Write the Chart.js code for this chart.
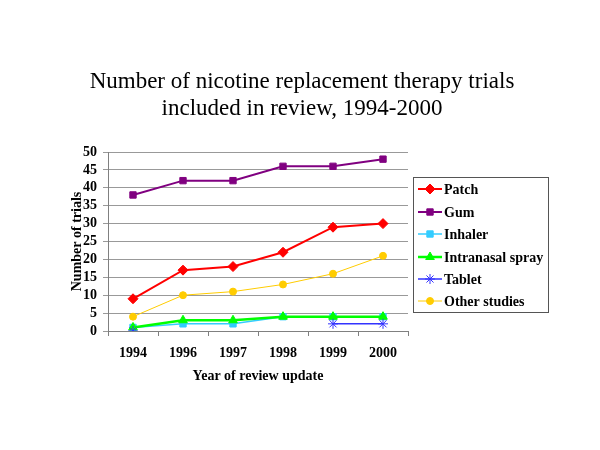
<!DOCTYPE html>
<html>
<head>
<meta charset="utf-8">
<script src="https://cdn.jsdelivr.net/npm/chart.js@4.4.0/dist/chart.umd.min.js"></script>
<style>
html,body{margin:0;padding:0;background:#fff;}
#wrap{width:600px;height:450px;position:relative;}
</style>
</head>
<body>
<div id="wrap"><canvas id="c" width="600" height="450"></canvas></div>
<script>
const years = ["1994","1996","1997","1998","1999","2000"];
const patch = [9, 17, 18, 22, 29, 30];
const gum = [38, 42, 42, 46, 46, 48];
const inhaler = [1, 2, 2, 4, 4, 4];
const intranasal = [1, 3, 3, 4, 4, 4];
const tablet = [0, null, null, null, 2, 2];
const other = [4, 10, 11, 13, 16, 21];
const yTicks = [0, 5, 10, 15, 20, 25, 30, 35, 40, 45, 50];
const titleLines = ['Number of nicotine replacement therapy trials', 'included in review, 1994-2000'];

const SERIF = "'Liberation Serif', 'Times New Roman', serif";

const titleAndLegend = {
  id: 'titleAndLegend',
  afterDraw(chart) {
    const ctx = chart.ctx;
    ctx.save();
    // title
    ctx.font = "23px " + SERIF;
    ctx.fillStyle = '#000';
    ctx.textAlign = 'center';
    ctx.textBaseline = 'middle';
    ctx.fillText(titleLines[0], 302, 82);
    ctx.fillText(titleLines[1], 302, 109);
    // legend box
    const x0 = 413, y0 = 177, w = 135, h = 135;
    ctx.strokeStyle = '#555';
    ctx.lineWidth = 1;
    ctx.strokeRect(x0 + 0.5, y0 + 0.5, w, h);
    const ys = [189, 212, 234, 257, 279, 301];
    ctx.font = "bold 14px " + SERIF;
    ctx.textBaseline = 'middle';
    ctx.textAlign = 'left';
    chart.data.datasets.forEach((ds, k) => {
      const y = ys[k];
      ctx.strokeStyle = ds.borderColor;
      ctx.lineWidth = Math.max(1, ds.borderWidth);
      ctx.beginPath();
      ctx.moveTo(418, y);
      ctx.lineTo(442, y);
      ctx.stroke();
      ctx.fillStyle = ds.pointBackgroundColor;
      ctx.strokeStyle = ds.pointBorderColor;
      ctx.lineWidth = 1;
      Chart.helpers.drawPoint(ctx, {
        pointStyle: ds.pointStyle,
        radius: ds.pointRadius,
        borderWidth: 1
      }, 430, y);
      ctx.fillStyle = '#000';
      ctx.fillText(ds.label, 444, y + 1);
    });
    ctx.restore();
  }
};

function mk(label, data, color, style, radius, bw, order) {
  return {
    label, data,
    borderColor: color,
    backgroundColor: color,
    pointBackgroundColor: color,
    pointBorderColor: color,
    pointStyle: style,
    pointRadius: radius,
    pointBorderWidth: 1,
    borderWidth: bw,
    tension: 0,
    spanGaps: false,
    order
  };
}

const chart = new Chart(document.getElementById('c'), {
  type: 'line',
  data: {
    labels: years,
    datasets: [
      mk('Patch', patch, '#FF0000', 'rectRot', 5, 2, 6),
      mk('Gum', gum, '#800080', 'rect', 4.5, 2, 5),
      mk('Inhaler', inhaler, '#33CCFF', 'rect', 4.5, 1.5, 4),
      mk('Intranasal spray', intranasal, '#00FF00', 'triangle', 5, 2.5, 3),
      mk('Tablet', tablet, '#3333FF', 'star', 5, 1.5, 2),
      mk('Other studies', other, '#FFCC00', 'circle', 3.5, 1, 1)
    ]
  },
  options: {
    responsive: false,
    animation: false,
    devicePixelRatio: 1,
    layout: { padding: { left: 65, right: 192, top: 152, bottom: 61 } },
    plugins: {
      legend: { display: false },
      tooltip: { enabled: false },
      title: { display: false }
    },
    scales: {
      x: {
        offset: true,
        grid: { offset: true, drawOnChartArea: false, drawTicks: true, tickLength: 5, color: '#808080' },
        border: { color: '#808080', width: 1 },
        ticks: { font: { family: SERIF, size: 14, weight: 'bold' }, color: '#000', padding: 9, maxRotation: 0, autoSkip: false },
        title: { display: true, text: 'Year of review update', font: { family: SERIF, size: 14, weight: 'bold' }, color: '#000', padding: { top: 4, bottom: 4 } },
        afterFit(s) { s.height = 58; }
      },
      y: {
        min: 0, max: 50,
        afterBuildTicks(s) { s.ticks = yTicks.map(v => ({ value: v })); },
        grid: { color: '#999999', tickLength: 5, drawTicks: true },
        border: { color: '#808080', width: 1 },
        ticks: { font: { family: SERIF, size: 14, weight: 'bold' }, color: '#000', padding: 6, autoSkip: false, stepSize: 5 },
        title: { display: true, text: 'Number of trials', font: { family: SERIF, size: 14, weight: 'bold' }, color: '#000', padding: { top: 4, bottom: 4 } },
        afterFit(s) { s.width = 43; }
      }
    }
  },
  plugins: [titleAndLegend]
});
</script>
</body>
</html>
